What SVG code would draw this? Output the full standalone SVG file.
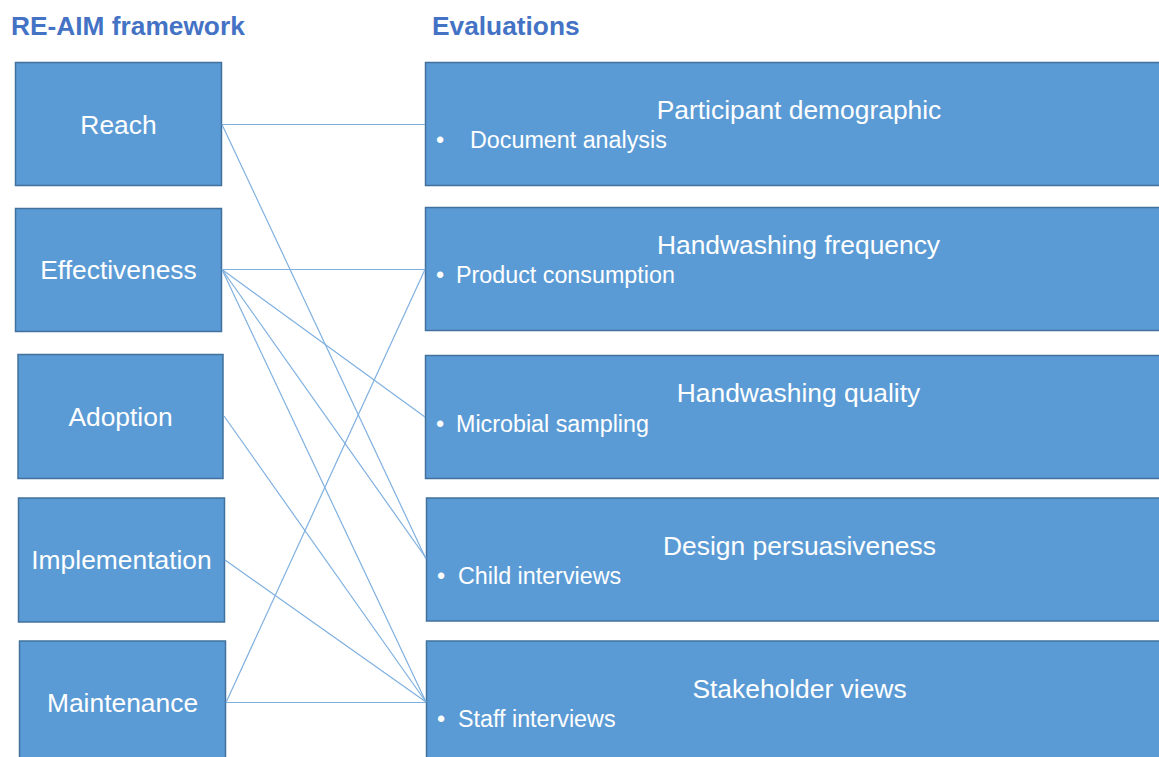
<svg xmlns="http://www.w3.org/2000/svg" width="1159" height="757" viewBox="0 0 1159 757">
<style>
.box{fill:#5B9BD5;stroke:#41719C;stroke-width:1.5}
.lbl{font-family:"Liberation Sans",Arial,sans-serif;font-size:26.4px;fill:#fff;text-anchor:middle}
.ttl{font-family:"Liberation Sans",Arial,sans-serif;font-size:26.4px;fill:#fff;text-anchor:middle}
.bul{font-family:"Liberation Sans",Arial,sans-serif;font-size:23.3px;fill:#fff}
.hdr{font-family:"Liberation Sans",Arial,sans-serif;font-size:26.3px;font-weight:bold;fill:#4472C4}
.con line{stroke:#7FB0E0;stroke-width:1.2}
</style>
<rect width="1159" height="757" fill="#fff"/>
<text class="hdr" x="11" y="35">RE-AIM framework</text>
<text class="hdr" x="432" y="35">Evaluations</text>
<g id="reach"><rect class="box" x="15.5" y="62.5" width="206" height="123"/><text class="lbl" x="118.5" y="134">Reach</text></g>
<g id="effectiveness"><rect class="box" x="15.5" y="208.5" width="206" height="123"/><text class="lbl" x="118.5" y="279">Effectiveness</text></g>
<g id="adoption"><rect class="box" x="18" y="354.5" width="205" height="124"/><text class="lbl" x="120.5" y="426">Adoption</text></g>
<g id="implementation"><rect class="box" x="18.5" y="498" width="206" height="124"/><text class="lbl" x="121.5" y="569">Implementation</text></g>
<g id="maintenance"><rect class="box" x="19.5" y="641" width="206" height="130"/><text class="lbl" x="122.5" y="712">Maintenance</text></g>
<g id="participant"><rect class="box" x="425.5" y="62.5" width="750" height="123"/><text class="ttl" x="799" y="119">Participant demographic</text><text class="bul" x="436" y="148">•</text><text class="bul" x="470" y="148">Document analysis</text></g>
<g id="frequency"><rect class="box" x="425.5" y="207.5" width="750" height="123"/><text class="ttl" x="798.5" y="254">Handwashing frequency</text><text class="bul" x="436" y="283">•</text><text class="bul" x="456" y="283">Product consumption</text></g>
<g id="quality"><rect class="box" x="425.5" y="355.5" width="750" height="123"/><text class="ttl" x="798.5" y="402">Handwashing quality</text><text class="bul" x="436" y="432">•</text><text class="bul" x="456" y="432">Microbial sampling</text></g>
<g id="design"><rect class="box" x="426.5" y="498" width="750" height="123"/><text class="ttl" x="799.5" y="555">Design persuasiveness</text><text class="bul" x="437" y="584">•</text><text class="bul" x="458" y="584">Child interviews</text></g>
<g id="stakeholder"><rect class="box" x="426.5" y="641" width="750" height="130"/><text class="ttl" x="799.5" y="698">Stakeholder views</text><text class="bul" x="437" y="727">•</text><text class="bul" x="458" y="727">Staff interviews</text></g>
<g class="con" id="connectors">
<line x1="222" y1="124.5" x2="425" y2="124.5"/>
<line x1="222" y1="124.5" x2="426" y2="559"/>
<line x1="222" y1="269.5" x2="425" y2="269.5"/>
<line x1="222" y1="269.5" x2="425" y2="417"/>
<line x1="222" y1="269.5" x2="426" y2="558"/>
<line x1="222" y1="269.5" x2="426" y2="702"/>
<line x1="224" y1="416" x2="426" y2="702"/>
<line x1="225" y1="560" x2="426" y2="702"/>
<line x1="226" y1="702.5" x2="426" y2="702.5"/>
<line x1="226" y1="702.5" x2="425" y2="269.5"/>
</g>
</svg>
